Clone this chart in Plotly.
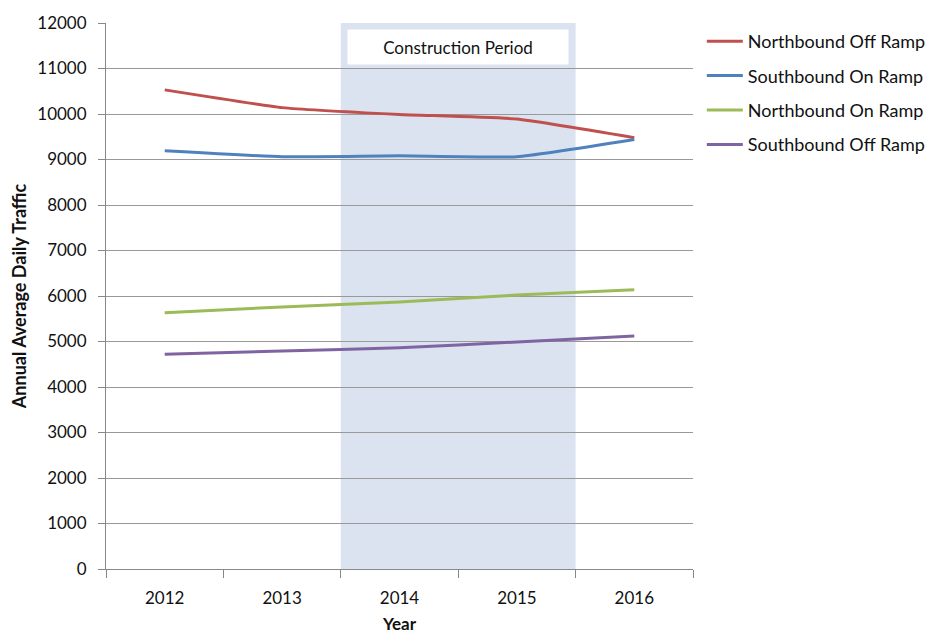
import plotly.graph_objects as go

years = ['2012', '2013', '2014', '2015', '2016']
nb_off = [10530, 10140, 9990, 9890, 9480]
sb_on = [9190, 9060, 9080, 9060, 9440]
nb_on = [5630, 5760, 5870, 6020, 6140]
sb_off = [4720, 4790, 4860, 4990, 5120]

series = [
    ('Northbound Off Ramp', nb_off, '#C0504D'),
    ('Southbound On Ramp', sb_on, '#4F81BD'),
    ('Northbound On Ramp', nb_on, '#9BBB59'),
    ('Southbound Off Ramp', sb_off, '#8064A2'),
]

fig = go.Figure()
for name, vals, col in series:
    fig.add_trace(go.Scatter(
        x=years, y=vals, name=name, mode='lines', legendgroup=name,
        line=dict(color=col, width=3, shape='spline', smoothing=0.4)
    ))

# construction period shading, between 2013/2014 and 2015/2016
fig.add_shape(type='rect', xref='x', yref='paper', x0=1.5, x1=3.5, y0=0, y1=1,
              fillcolor='#DAE3EF', line=dict(width=0), layer='below')
fig.add_annotation(x=2.5, xref='x', y=11470, yref='y', text='Construction Period',
                   showarrow=False, bgcolor='white', width=218, height=32,
                   font=dict(size=17, color='#111'))

fig.update_layout(
    width=934, height=633,
    margin=dict(l=98, r=249, t=15, b=72, autoexpand=False),
    plot_bgcolor='white', paper_bgcolor='white',
    font=dict(family='Lato, Open Sans, sans-serif', color='#111'),
    legend=dict(x=1.015, y=1.0, xanchor='left', yanchor='top',
                font=dict(size=18), tracegroupgap=8, itemwidth=36),
    xaxis=dict(type='category', range=[-0.5, 4.5], tickson='boundaries',
               ticks='outside', ticklen=8, tickcolor='#888',
               showline=True, linecolor='#888', showgrid=False,
               tickfont=dict(size=17), ticklabelstandoff=14,
               title=dict(text='<b>Year</b>', font=dict(size=17), standoff=10)),
    yaxis=dict(range=[0, 12000], dtick=1000, tickformat='d', showgrid=True,
               gridcolor='#999', gridwidth=1, showline=True, linecolor='#888',
               ticks='outside', ticklen=7, tickcolor='#888',
               tickfont=dict(size=17), zeroline=False, ticklabelstandoff=8,
               title=dict(text='<b>Annual Average Daily Traffic</b>',
                          font=dict(size=18), standoff=10)),
)

fig.write_html('out.html')
